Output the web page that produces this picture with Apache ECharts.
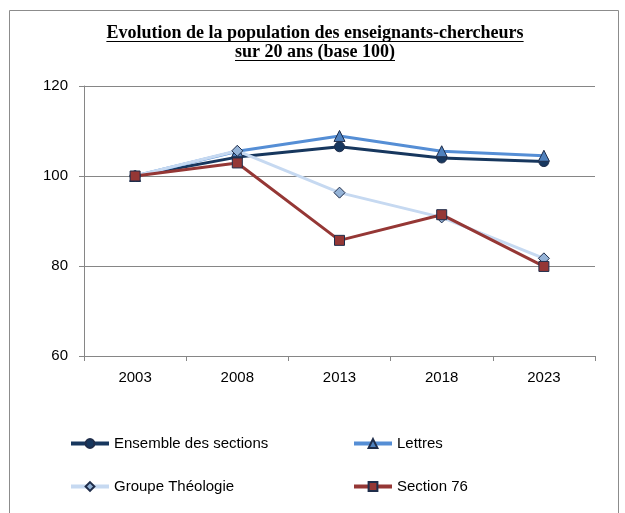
<!DOCTYPE html>
<html>
<head>
<meta charset="utf-8">
<script src="https://cdn.jsdelivr.net/npm/echarts@6/dist/echarts.min.js"></script>
<style>
  html, body { margin: 0; padding: 0; background: #fff; }
  #chart { width: 625px; height: 513px; }
</style>
</head>
<body>
<div id="chart"></div>
<script>
var years = ['2003', '2008', '2013', '2018', '2023'];
var ensemble = [100, 104.2, 106.5, 104.0, 103.2];
var lettres = [100, 105.5, 108.9, 105.5, 104.5];
var theologie = [100, 105.6, 96.3, 90.8, 81.7];
var section76 = [100, 102.9, 85.7, 91.4, 79.9];

var titleLines = ['Evolution de la population des enseignants-chercheurs', 'sur 20 ans (base 100)'];
var titleFont = 'bold 18px "Liberation Serif"';
var axisFont = '"Liberation Sans"';

var myChart = echarts.init(document.getElementById('chart'));

// measure the title lines to draw the underlines
var ctx = document.createElement('canvas').getContext('2d');
ctx.font = titleFont;
var titleGraphics = [];
var titleY = [24, 43];
for (let i = 0; i < titleLines.length; i++) {
    let w = ctx.measureText(titleLines[i]).width;
    titleGraphics.push({
        type: 'text',
        left: 315 - w / 2,
        top: titleY[i],
        style: { text: titleLines[i], font: titleFont, fill: '#000' }
    });
    titleGraphics.push({
        type: 'line',
        shape: { x1: 315 - w / 2, y1: titleY[i] + 17.5, x2: 315 + w / 2, y2: titleY[i] + 17.5 },
        style: { stroke: '#000', lineWidth: 1 }
    });
}

function makeSeries(name, data, lineColor, symbol, size, fill) {
    return {
        name: name,
        type: 'line',
        data: data,
        symbol: symbol,
        symbolSize: size,
        lineStyle: { color: lineColor, width: 3 },
        itemStyle: { color: fill, borderColor: '#1F2D4A', borderWidth: 1 },
        emphasis: { disabled: true },
        animation: false
    };
}

var legendText = { fontFamily: axisFont, fontSize: 15, color: '#000' };
function legendAt(name, left, top) {
    return {
        data: [name],
        left: left,
        top: top,
        itemWidth: 38,
        itemHeight: 11,
        itemGap: 0,
        lineStyle: { width: 4 },
        textStyle: legendText,
        padding: 0
    };
}

var option = {
    backgroundColor: '#fff',
    graphic: [{
        type: 'rect',
        shape: { x: 9.5, y: 10.5, width: 609, height: 520 },
        style: { fill: 'none', stroke: '#8c8c8c', lineWidth: 1 }
    }].concat(titleGraphics),
    legend: [
        legendAt('Ensemble des sections', 69, 436),
        legendAt('Lettres', 352, 436),
        legendAt('Groupe Théologie', 69, 479),
        legendAt('Section 76', 352, 479)
    ],
    grid: { left: 84, right: 30, top: 86, bottom: 157 },
    xAxis: {
        type: 'category',
        data: years,
        boundaryGap: true,
        axisLine: { lineStyle: { color: '#868686' } },
        axisTick: { show: true, length: 5, lineStyle: { color: '#868686' } },
        axisLabel: { color: '#000', fontFamily: axisFont, fontSize: 15, margin: 14 },
        splitLine: { show: false }
    },
    yAxis: {
        type: 'value',
        min: 60,
        max: 120,
        interval: 20,
        axisLine: { show: true, lineStyle: { color: '#868686' } },
        axisTick: { show: true, length: 5, lineStyle: { color: '#868686' } },
        axisLabel: { color: '#000', fontFamily: axisFont, fontSize: 15, margin: 16 },
        splitLine: { lineStyle: { color: '#868686' } }
    },
    series: [
        makeSeries('Ensemble des sections', ensemble, '#17375E', 'circle', 10, '#17375E'),
        makeSeries('Lettres', lettres, '#558ED5', 'triangle', 11, '#4F81BD'),
        makeSeries('Groupe Théologie', theologie, '#C6D9F1', 'diamond', 11, '#95B3D7'),
        makeSeries('Section 76', section76, '#953735', 'rect', 10, '#953735')
    ]
};

myChart.setOption(option);
</script>
</body>
</html>
